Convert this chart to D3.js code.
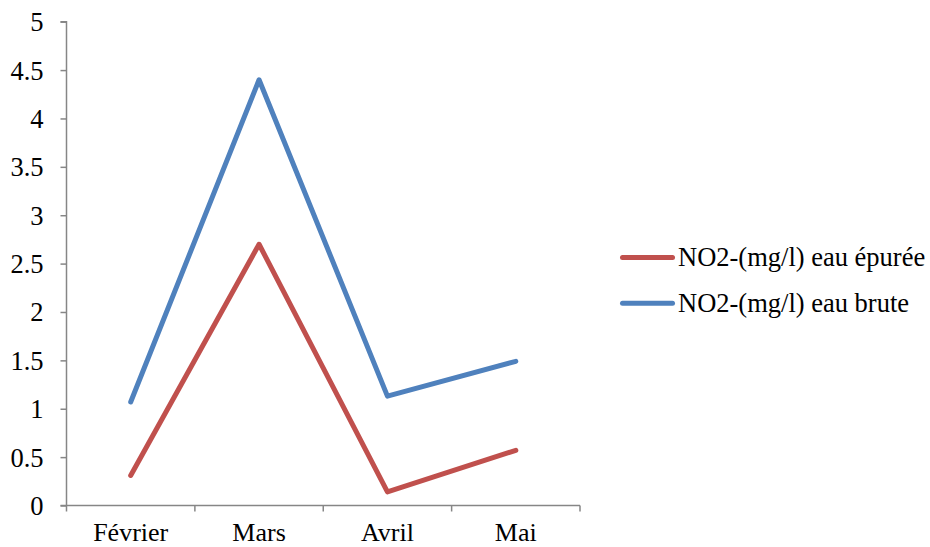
<!DOCTYPE html>
<html>
<head>
<meta charset="utf-8">
<script src="https://cdn.jsdelivr.net/npm/d3@7"></script>
<style>
  html, body { margin: 0; padding: 0; background: #fff; }
</style>
</head>
<body>
<svg id="chart" width="930" height="547"></svg>
<script>
// Monthly nitrite concentrations (mg/l)
const months = ["Février", "Mars", "Avril", "Mai"];
const treatedValues = [0.31, 2.70, 0.14, 0.57];
const rawValues = [1.07, 4.40, 1.13, 1.49];
const seriesNames = ["NO2-(mg/l) eau épurée", "NO2-(mg/l) eau brute"];
const seriesColors = ["#C0504D", "#4F81BD"];
const yTicks = [0, 0.5, 1, 1.5, 2, 2.5, 3, 3.5, 4, 4.5, 5];

const FONT = "Liberation Serif";
const FONT_SIZE = 26.5;

const svg = d3.select("#chart");
const plot = { left: 66.5, right: 580, top: 21.7, bottom: 505.5 };

const x = d3.scaleBand().domain(months).range([plot.left, plot.right]);
const y = d3.scaleLinear().domain([0, 5]).range([plot.bottom, plot.top]);

const axisColor = "#868686";

// Y axis
const yAxis = svg.append("g")
  .attr("transform", `translate(${plot.left},0)`)
  .call(d3.axisLeft(y).tickValues(yTicks).tickSize(6).tickPadding(17)
    .tickFormat(d => String(d)));
yAxis.attr("font-family", FONT).attr("font-size", FONT_SIZE);
yAxis.select(".domain").attr("stroke", axisColor).attr("stroke-width", 1.5)
  .attr("d", `M-6,${plot.top}H0V${plot.bottom}`);
yAxis.selectAll(".tick line").attr("stroke", axisColor).attr("stroke-width", 1.5);
yAxis.selectAll(".tick text").attr("fill", "#000").attr("dy", "0.34em");

// X axis with tick marks at band boundaries
const xAxisG = svg.append("g").attr("transform", `translate(0,${plot.bottom})`);
xAxisG.append("line")
  .attr("x1", plot.left - 6).attr("x2", plot.right)
  .attr("stroke", axisColor).attr("stroke-width", 1.5);
const boundaries = months.map(m => x(m)).concat([x(months[months.length - 1]) + x.bandwidth()]);
xAxisG.selectAll("line.tick").data(boundaries).enter().append("line")
  .attr("class", "tick")
  .attr("x1", d => d).attr("x2", d => d).attr("y1", 0).attr("y2", 6)
  .attr("stroke", axisColor).attr("stroke-width", 1.5);
xAxisG.selectAll("text").data(months).enter().append("text")
  .attr("x", d => x(d) + x.bandwidth() / 2)
  .attr("y", 35.5)
  .attr("text-anchor", "middle")
  .attr("font-family", FONT)
  .attr("font-size", 26)
  .attr("fill", "#000")
  .text(d => d);

// Lines
const line = d3.line()
  .x((d, i) => x(months[i]) + x.bandwidth() / 2)
  .y(d => y(d));

[treatedValues, rawValues].forEach((vals, k) => {
  svg.append("path")
    .datum(vals)
    .attr("d", line)
    .attr("fill", "none")
    .attr("stroke", seriesColors[k])
    .attr("stroke-width", 5)
    .attr("stroke-linecap", "round")
    .attr("stroke-linejoin", "round");
});

// Legend
const legend = svg.append("g");
seriesNames.forEach((name, k) => {
  const ly = 257.6 + k * 45.6;
  legend.append("line")
    .attr("x1", 622.5).attr("x2", 672.5).attr("y1", ly).attr("y2", ly)
    .attr("stroke", seriesColors[k]).attr("stroke-width", 5)
    .attr("stroke-linecap", "round");
  legend.append("text")
    .attr("x", 678).attr("y", ly + 8.3)
    .attr("font-family", FONT)
    .attr("font-size", FONT_SIZE)
    .attr("fill", "#000")
    .text(name);
});
</script>
</body>
</html>
